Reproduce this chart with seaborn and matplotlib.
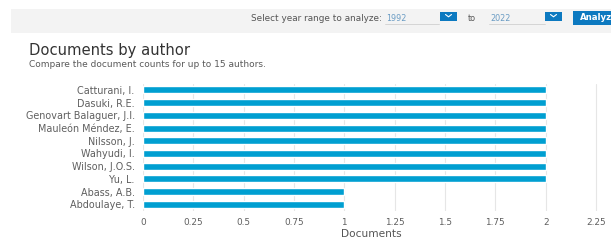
import matplotlib
matplotlib.use("Agg")
import matplotlib.pyplot as plt
import seaborn as sns
import pandas as pd
from matplotlib.patches import Rectangle
from matplotlib.lines import Line2D

authors = ["Catturani, I.", "Dasuki, R.E.", "Genovart Balaguer, J.I.", "Mauleón Méndez, E.",
           "Nilsson, J.", "Wahyudi, I.", "Wilson, J.O.S.", "Yu, L.", "Abass, A.B.", "Abdoulaye, T."]
documents = [2, 2, 2, 2, 2, 2, 2, 2, 1, 1]
x_ticks = [0, 0.25, 0.5, 0.75, 1, 1.25, 1.5, 1.75, 2, 2.25]
x_tick_labels = ["0", "0.25", "0.5", "0.75", "1", "1.25", "1.5", "1.75", "2", "2.25"]

df = pd.DataFrame({"author": authors, "documents": documents})

sns.set_theme(style="white")
plt.rcParams["font.family"] = ["DejaVu Sans"]

W, H = 611, 240
fig = plt.figure(figsize=(W / 100, H / 100), dpi=100)
fig.patch.set_facecolor("white")

def fx(px):
    return px / W

def fy(py):
    return 1 - py / H

# top control band
fig.patches.append(Rectangle((fx(11), fy(33)), fx(600), 24 / H, transform=fig.transFigure,
                             facecolor="#f3f3f3", edgecolor="none", zorder=0))
fig.text(fx(382), fy(18.5), "Select year range to analyze:", fontsize=6.4, color="#555555",
         ha="right", va="center")
fig.text(fx(386), fy(18.5), "1992", fontsize=5.8, color="#6a9cc4", ha="left", va="center")
fig.add_artist(Line2D([fx(385), fx(439)], [fy(23.5), fy(23.5)], color="#d0d0d0", lw=0.6))
fig.text(fx(468), fy(18.5), "to", fontsize=5.8, color="#555555", ha="left", va="center")
fig.text(fx(490), fy(18.5), "2022", fontsize=5.8, color="#6a9cc4", ha="left", va="center")
fig.add_artist(Line2D([fx(489), fx(545)], [fy(23.5), fy(23.5)], color="#d0d0d0", lw=0.6))
for bx in (440, 545):
    fig.patches.append(Rectangle((fx(bx), fy(20.5)), fx(17), 9 / H, transform=fig.transFigure,
                                 facecolor="#0c79c0", edgecolor="none"))
    fig.add_artist(Line2D([fx(bx + 5.5), fx(bx + 8.5), fx(bx + 11.5)],
                          [fy(14.5), fy(16.8), fy(14.5)], color="white", lw=0.8))
fig.patches.append(Rectangle((fx(573), fy(24.5)), fx(40), 13.5 / H, transform=fig.transFigure,
                             facecolor="#0c79c0", edgecolor="none"))
fig.text(fx(580), fy(18), "Analyze", fontsize=6.2, color="white", ha="left", va="center",
         fontweight="bold")

# titles
fig.text(fx(29), fy(51), "Documents by author", fontsize=10.6, color="#333333",
         ha="left", va="center")
fig.text(fx(29), fy(64.5), "Compare the document counts for up to 15 authors.", fontsize=6.5,
         color="#5a5a5a", ha="left", va="center")

# chart
ax = fig.add_axes([fx(143), fy(210.6), fx(600 - 143), (210.6 - 83.6) / H])
sns.barplot(data=df, x="documents", y="author", orient="h", color="#009fd1",
            saturation=1, width=0.55, ax=ax, zorder=3)
ax.set_xlim(0, 2.27)
ax.set_xticks(x_ticks)
ax.set_xticklabels(x_tick_labels)
ax.grid(axis="x", color="#e6e6e6", lw=0.8, zorder=0)
ax.grid(axis="y", visible=False)
ax.set_axisbelow(True)
for s in ax.spines.values():
    s.set_visible(False)
ax.tick_params(axis="y", length=0, labelsize=6.9, labelcolor="#5f5f5f", pad=6)
ax.tick_params(axis="x", length=0, labelsize=6.4, labelcolor="#5f5f5f", pad=5)
ax.set_ylabel("")
ax.set_xlabel("Documents", fontsize=7.6, color="#555555", labelpad=2)

fig.savefig("out.png", dpi=100)
